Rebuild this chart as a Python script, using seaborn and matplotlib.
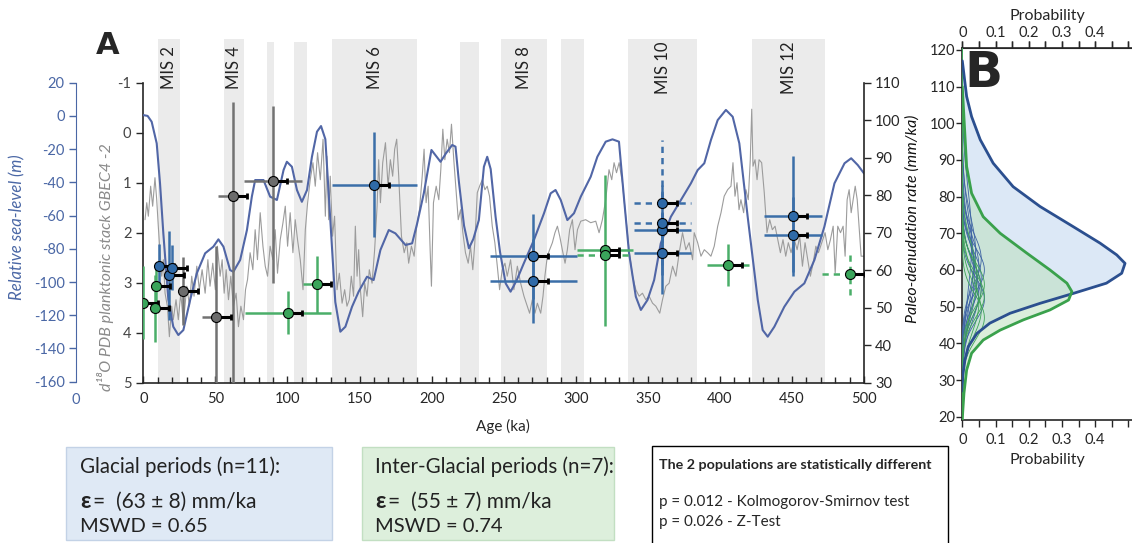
import numpy as np
import pandas as pd
import matplotlib
matplotlib.use("Agg")
import matplotlib.pyplot as plt
import matplotlib.transforms as mtransforms
from matplotlib.patches import Rectangle
from matplotlib.ticker import MultipleLocator
import seaborn as sns

# ---------------------------------------------------------------- data
# Marine isotope stage (grey) bands, ka
mis_start = [10.4, 55.8, 85.8, 104.7, 131.2, 219.6, 247.9, 289.5, 336.6, 422.5]
mis_end = [25.5, 70.0, 91.0, 113.5, 190.0, 233.0, 280.0, 305.5, 384.0, 473.0]
mis_names = ["MIS 2", "MIS 4", "", "", "MIS 6", "", "MIS 8", "", "MIS 10", "MIS 12"]

# relative sea level (m)
sl_age = [0, 3, 5.8, 9.3, 11.6, 13.9, 17.4, 20.8, 24.3, 27.8, 32.5, 37.1, 42.9, 48.6, 52.1,
          55.6, 60.2, 62.5, 67.2, 71.9, 75.3, 77.6, 83.4, 88, 92.7, 97.3, 99.6, 103.1, 106.6,
          110, 113.6, 117, 120.5, 123.3, 126.3, 129.7, 133.2, 136.7, 140.2, 144.8, 149.4,
          155.2, 159.8, 164.5, 170.3, 174.9, 181.9, 186.5, 190, 194.6, 199.9, 206.2, 210,
          214.3, 216.6, 219, 222.5, 225.9, 229, 232.8, 236.3, 238.6, 241, 244.4, 247.5,
          251.4, 254.8, 259, 264, 271, 278, 282.6, 286, 289.6, 294.2, 298.8, 303.5, 310.4,
          315, 320.8, 325.5, 330, 333.6, 337, 341.7, 345.2, 349.8, 354.4, 359, 366, 373,
          379.9, 384.6, 389.2, 393.8, 398.5, 404.2, 408.9, 413.5, 419.3, 426.3, 429.7,
          433.2, 437.8, 444.7, 451.7, 458.6, 465.6, 472.5, 479.5, 486.5, 491.1, 495.7, 500]
sea_level = [0.5, 0, -3.5, -16.5, -40.6, -70.7, -110.8, -126.9, -131.9, -128.9, -110.8, -94.8,
             -82.7, -78.7, -74.3, -78.7, -92.8, -93.8, -86.7, -68.7, -48.6, -38.6, -38.6,
             -48.6, -50.6, -32.6, -27.6, -30.6, -44.6, -51.7, -44.6, -24.6, -9.5, -6.1, -14,
             -62, -112, -129.9, -126.9, -114.9, -105.8, -96.8, -98.8, -80.7, -68.7, -70.7,
             -77.7, -76.7, -64.7, -46.6, -20.5, -27.6, -22.5, -17.5, -18.5, -40, -66, -79.7,
             -74, -62.7, -30.6, -24.6, -32, -60.7, -82, -100.8, -105.8, -99, -88.7, -74.7,
             -58.6, -46.6, -44.6, -50.6, -62.7, -58.6, -48.6, -36.6, -24.6, -15.5, -14.1,
             -15.5, -50.6, -82.7, -108.8, -116.8, -110.8, -98.8, -76.7, -60.7, -50.6, -40.6,
             -32.6, -28.5, -14.5, -2.5, 3.6, -0.5, -16.5, -60.7, -110.8, -128.9, -132.9,
             -126.9, -114.9, -105.8, -100.8, -86.7, -66.7, -40.6, -28.5, -25.5, -29.6, -34.6]

# d18O planktonic stack
d18_age = [1.2, 2.4, 3.5, 5.1, 6.5, 8.1, 9.3, 10.4, 11.6, 12.8, 13.9, 15.1, 16.7, 18.1, 19.7,
           20.8, 22.7, 24.3, 26.0, 27.8, 30.2, 32.0, 33.6, 35.2, 37.1, 38.9, 40.8, 42.9, 44.8,
           46.3, 48.2, 50.0, 51.4, 53.3, 54.7, 56.1, 57.5, 59.1, 60.7, 62.5, 64.4, 66.0, 67.7,
           69.5, 70.9, 72.3, 74.1, 76.0, 77.6, 79.2, 81.1, 83.0, 84.6, 86.2, 88.0, 89.9, 91.5,
           93.1, 95.0, 96.9, 98.5, 100.1, 101.9, 103.8, 105.4, 107.0, 108.9, 110.8, 112.4,
           114.0, 115.8, 117.7, 119.3, 120.9, 122.8, 124.7, 126.3, 127.4, 128.6, 129.7, 131.3,
           132.7, 134.4, 136.0, 137.9, 139.7, 141.3, 142.9, 144.3, 145.9, 147.1, 148.3, 149.4,
           150.6, 152.2, 153.6, 155.2, 156.8, 158.7, 160.5, 162.2, 163.3, 164.5, 166.1, 168.0,
           169.8, 171.4, 173.0, 174.4, 175.8, 177.2, 179.1, 181.0, 182.8, 184.1, 186.0, 187.9,
           189.7, 191.6, 193.5, 194.8, 196.2, 197.6, 199.0, 199.9, 201.3, 203.2, 205.0, 206.4,
           207.8, 209.2, 210.8, 212.4, 213.8, 215.4, 217.1, 218.5, 220.1, 221.7, 223.5, 225.4,
           227.0, 228.6, 230.0, 231.7, 233.3, 235.2, 237.0, 238.6, 240.2, 242.1, 243.9, 245.6,
           247.2, 249.0, 250.9, 252.5, 254.8, 257.1, 259.5, 261.8, 264.1, 266.4, 268.0, 269.9,
           271.7, 273.4, 275.7, 277.3, 278.6, 280.3, 281.9, 283.8, 285.6, 287.3, 288.9, 290.7,
           292.6, 294.2, 295.8, 297.7, 299.5, 301.2, 303.5, 306.9, 310.4, 313.9, 316.2, 318.5,
           320.8, 323.1, 325.0, 326.6, 328.3, 330.1, 332.4, 334.7, 337.0, 339.4, 341.7, 344.0,
           346.3, 348.6, 350.9, 353.3, 355.6, 358.3, 360.2, 362.5, 364.8, 367.2, 369.5, 371.8,
           374.1, 376.4, 378.7, 381.1, 382.2, 384.6, 386.9, 389.2, 391.5, 393.8, 396.1, 398.5,
           400.8, 403.0, 405.4, 407.7, 409.1, 410.5, 411.9, 413.3, 414.6, 416.5, 418.1, 419.7,
           421.1, 422.1, 423.0, 424.4, 425.8, 427.2, 429.0, 430.8, 432.7, 434.6, 436.4, 438.3,
           440.2, 442.0, 443.8, 445.7, 447.5, 449.4, 451.7, 453.6, 455.4, 457.3, 459.1, 461.0,
           462.8, 464.7, 466.6, 468.4, 470.7, 473.0, 474.9, 476.7, 478.6, 480.0, 481.8, 483.7,
           485.5, 486.9, 488.3, 489.7, 491.1, 492.5, 493.9, 495.3, 496.7, 498.0, 500.0]
d18O = [1.74, 1.40, 1.67, 1.07, 1.47, 0.90, 1.34, 1.87, 2.40, 2.87, 2.54, 3.21, 3.47, 4.08, 3.47,
        3.74, 3.34, 3.74, 3.21, 3.81, 3.07, 3.47, 2.87, 3.27, 2.67, 3.14, 2.74, 3.21, 2.54,
        3.07, 2.61, 3.14, 2.27, 2.87, 2.54, 3.21, 2.74, 3.34, 2.87, 3.47, 3.21, 3.88, 3.47,
        3.74, 3.14, 2.94, 2.40, 2.74, 1.94, 2.54, 1.60, 2.27, 2.67, 2.87, 2.27, 2.54, 1.94,
        2.81, 2.14, 1.80, 1.47, 2.27, 1.60, 2.40, 1.74, 2.14, 2.54, 3.14, 1.94,
        1.40, 0.94, 0.60, 1.07, 0.40, 0.94, 0.13, 1.67, 0.47, 1.74, 0.87, 2.07,
        1.67, 3.14, 2.81, 3.41, 3.14, 3.47, 3.34, 2.87, 3.27, 1.87, 2.87, 2.34,
        3.14, 3.68, 3.01, 3.27, 2.74, 3.01, 2.34, 1.47, 0.54, 1.40, 0.60, 0.20,
        1.07, 0.54, 0.87, 0.33, 0.13, 0.87, 2.07, 2.40, 2.20, 2.61, 2.27, 2.47,
        1.87, 1.54, 0.87, 0.33, 1.40, 1.07, 2.34, 3.07, 1.40, 1.07, 1.34, 0.74,
        -0.07, 0.54, 0.13, 0.40, -0.17, 0.54, 1.20, 1.74, 1.54, 2.00, 2.40, 2.61,
        2.27, 2.74, 2.20, 1.20, 1.07, 0.94, 1.14, 1.07, 1.27, 1.87, 2.20, 2.67,
        3.14, 2.74, 2.61, 2.87, 2.54, 3.14, 2.67, 3.01, 3.27, 3.47, 3.61, 3.34,
        3.61, 3.41, 3.61, 3.27, 2.87, 2.47, 2.34, 2.20, 2.00, 1.87, 2.07, 2.34,
        2.61, 2.34, 1.94, 1.74, 2.34, 1.94, 1.77, 1.74, 1.80, 1.77, 2.00, 1.74,
        1.34, 0.74, 0.94, 0.60, 0.80, 0.60, 1.00, 1.67, 2.34, 2.87, 3.14, 3.27,
        3.21, 3.34, 3.27, 3.41, 3.47, 3.61, 3.34, 3.07, 3.01, 2.67, 2.87, 2.40,
        2.00, 2.34, 2.20, 2.54, 2.00, 2.20, 2.47, 2.34, 2.40, 2.47, 2.27, 1.87,
        1.60, 1.27, 1.14, 1.07, 0.60, 1.27, 1.00, 1.54, 1.34, 1.60, 1.14, 1.34,
        0.54, -0.47, 0.67, 0.54, 0.94, 0.54, 0.60, 1.20, 2.00, 1.74, 1.94, 1.87,
        2.14, 2.40, 2.14, 2.47, 2.20, 2.40, 2.14, 2.34, 2.07, 2.67, 2.20, 2.54,
        2.87, 2.61, 2.27, 2.40, 2.20, 2.00, 2.34, 2.14, 1.87, 2.81, 1.87, 2.00,
        1.87, 2.47, 1.34, 1.14, 1.60, 1.34, 1.07, 1.34, 1.94, 2.47, 2.47]

# paleo-denudation rates (mm/ka) vs age (ka)
glac_age = [11.1, 18.1, 20.2, 160.3, 270.6, 270.6, 360.2, 360.2, 450.8, 450.8]
glac_rate = [61.1, 58.6, 60.7, 82.8, 63.7, 57.1, 70.6, 64.6, 74.5, 69.5]
glac_age_err = [3, 3, 3, 29.5, 30, 30, 20, 20, 20, 20]
glac_rate_err = [6, 11.8, 6, 14, 11.3, 11.3, 12, 11, 16, 10]

glac_dash_age = [360.2, 360.2]
glac_dash_rate = [78.0, 72.7]
glac_dash_age_err = [20, 20]
glac_dash_rate_err = [16.7, 8]

inter_age = [0, 8.1, 8.6, 100.3, 120.5, 320.2, 405.4]
inter_rate = [51.3, 49.8, 55.9, 48.7, 56.2, 65.3, 61.5]
inter_age_err = [1, 2, 2, 30, 10, 19.4, 14.5]
inter_rate_err = [9.7, 9, 5, 5.8, 7.5, 20.2, 5.6]

inter_dash_age = [320.2, 490.6]
inter_dash_rate = [64.1, 58.9]
inter_dash_age_err = [19.4, 20]
inter_dash_rate_err = [1, 5.6]

other_age = [27.8, 50.5, 62.1, 89.9]
other_rate = [54.5, 47.4, 79.9, 83.7]
other_age_err = [4, 10, 10, 20]
other_rate_lo = [9, 19, 55, 27]
other_rate_hi = [9, 19, 25, 20]

# Panel B: summed probability curves
pb_glac_rate = [117, 107.3, 101.8, 95.5, 89.1, 82.7, 77.3, 71.8, 67.3, 64.1, 61.8, 59.1, 56.4,
                53.6, 50.9, 48.2, 45.5, 42.7, 39.1, 35.5, 30.9, 27]
pb_glac_prob = [0, 0.013, 0.028, 0.054, 0.093, 0.153, 0.234, 0.334, 0.415, 0.465, 0.49, 0.48,
                0.434, 0.334, 0.234, 0.144, 0.083, 0.044, 0.018, 0.008, 0.001, 0]
pb_inter_rate = [110, 88.2, 80.9, 74.5, 70, 64.6, 60, 56.4, 54.1, 51.8, 49.1, 46.4, 43.6,
                 40.9, 37.3, 32.7, 26.4, 20.9, 19.1]
pb_inter_prob = [0, 0.013, 0.028, 0.063, 0.114, 0.194, 0.264, 0.315, 0.33, 0.32, 0.264,
                 0.184, 0.114, 0.063, 0.028, 0.013, 0.005, 0.001, 0]
# individual sample densities (mean, sd in mm/ka)
ind_glac_mu = [52, 54, 55, 57, 58, 59, 60, 61, 62, 63, 65, 68]
ind_glac_sd = [6, 8, 7, 9, 7, 11, 6, 8, 12, 7, 10, 14]
ind_inter_mu = [47, 49, 51, 53, 55, 56, 58]
ind_inter_sd = [6, 7, 8, 6, 7, 6, 9]

# ---------------------------------------------------------------- style
W, H = 1132, 543
def fx(px): return px / W
def fy(py): return 1 - py / H

sns.set_style("ticks")
plt.rcParams["font.family"] = ["Lato", "DejaVu Sans"]
plt.rcParams["axes.unicode_minus"] = False

BLUE_PT, BLUE_BAR = "#2f6aa8", "#3b6ea8"
GREEN_PT, GREEN_BAR = "#3aa55b", "#4aae69"
GRAY_PT, GRAY_BAR = "#6c6c6c", "#727272"
SEA = "#5166a6"
SEA_AX = "#4a67a5"
D18 = "#9c9c9c"
BAND = "#ebebeb"

fig = plt.figure(figsize=(W / 100, H / 100), dpi=100)

# ------------------------------------------------------------- panel A
ax = fig.add_axes([fx(143.3), fy(382.7), (864 - 143.3) / W, (382.7 - 82.7) / H])
ax_sl = ax.twinx()
ax_r = ax.twinx()

tall_top = 1 + (82.7 - 38.5) / 300
short_top = 1 + (82.7 - 41.5) / 300
trans = mtransforms.blended_transform_factory(ax.transData, ax.transAxes)
for s, e, name in zip(mis_start, mis_end, mis_names):
    top = tall_top if (e - s) > 14 or name else short_top
    ax.axvspan(s, e, ymin=0, ymax=top, color=BAND, lw=0, zorder=0, clip_on=False)
    if name:
        ax.text((s + e) / 2, 1.05, name, transform=trans, rotation=90, ha="center",
                va="center", fontsize=12, color="#222222")

df_d18 = pd.DataFrame({"age": d18_age, "d18O": d18O})
sns.lineplot(data=df_d18, x="age", y="d18O", ax=ax, color=D18, lw=0.8, estimator=None,
             sort=False, zorder=2)
ax.set_xlim(0, 500)
ax.set_ylim(5, -1)
ax.set_yticks(range(-1, 6))
ax.set_xticks(range(0, 501, 50))
ax.xaxis.set_minor_locator(MultipleLocator(10))
ax.tick_params(axis="x", which="both", direction="in", length=5, width=1, labelsize=10.5, pad=7)
ax.tick_params(axis="x", which="minor", length=4)
ax.tick_params(axis="y", direction="out", length=5, width=1, labelsize=10.5, labelcolor="#444444")
ax.set_xlabel("")
ax.set_ylabel("")
for sp in ["top", "right"]:
    ax.spines[sp].set_visible(False)
for sp in ["left", "bottom"]:
    ax.spines[sp].set_linewidth(1.2)

# sea level
df_sl = pd.DataFrame({"age": sl_age, "sl": sea_level})
sns.lineplot(data=df_sl, x="age", y="sl", ax=ax_sl, color=SEA, lw=1.5, estimator=None, sort=False)
ax_sl.set_ylim(-160.6, 20)
ax_sl.set_yticks(range(-160, 21, 20))
ax_sl.yaxis.set_ticks_position("left")
ax_sl.yaxis.set_label_position("left")
ax_sl.spines["left"].set_position(("outward", 48.2))
ax_sl.spines["left"].set_color(SEA_AX)
ax_sl.spines["left"].set_bounds(-160, 20)
for sp in ["top", "right", "bottom"]:
    ax_sl.spines[sp].set_visible(False)
ax_sl.tick_params(axis="y", direction="out", length=5, width=1, colors=SEA_AX, labelsize=10.5)
ax_sl.set_ylabel("")
ax_sl.set_xlabel("")

# denudation rates
ax_r.set_ylim(30, 110)
ax_r.set_yticks(range(30, 111, 10))
for sp in ["top", "left", "bottom"]:
    ax_r.spines[sp].set_visible(False)
ax_r.spines["right"].set_linewidth(1.2)
ax_r.tick_params(axis="y", direction="out", length=5, width=1, labelsize=10.5, pad=3)

ARROW = 10  # length of the black shift arrow (ka)

def draw_group(age, rate, aerr, rerr, bar_color, pt_color, ls="-"):
    eb = ax_r.errorbar(age, rate, xerr=aerr, yerr=rerr, fmt="none", ecolor=bar_color,
                       elinewidth=1.8, capsize=0, zorder=3)
    if ls != "-":
        for col in eb[2]:
            col.set_linestyle(ls)
    for a, r in zip(age, rate):
        ax_r.plot([a, a + ARROW], [r, r], color="black", lw=2.2, solid_capstyle="butt", zorder=4)
        ax_r.plot([a + ARROW], [r], marker="|", ms=5, mew=2, color="black", zorder=4)
    sns.scatterplot(x=age, y=rate, ax=ax_r, color=pt_color, s=52, edgecolor="black",
                    linewidth=0.8, zorder=5, legend=False)

draw_group(other_age, other_rate, other_age_err, [other_rate_lo, other_rate_hi], GRAY_BAR, GRAY_PT)
draw_group(inter_age, inter_rate, inter_age_err, inter_rate_err, GREEN_BAR, GREEN_PT)
draw_group(inter_dash_age, inter_dash_rate, inter_dash_age_err, inter_dash_rate_err,
           GREEN_BAR, GREEN_PT, ls=(0, (2.5, 2)))
draw_group(glac_age, glac_rate, glac_age_err, glac_rate_err, BLUE_BAR, BLUE_PT)
draw_group(glac_dash_age, glac_dash_rate, glac_dash_age_err, glac_dash_rate_err,
           BLUE_BAR, BLUE_PT, ls=(0, (2.5, 2)))
ax_r.set_xlim(0, 500)
ax_r.set_ylabel("")
ax_r.set_xlabel("")

# axis titles
fig.text(fx(17.5), fy(227), "Relative sea-level (m)", rotation=90, ha="center", va="center",
         color=SEA_AX, style="italic", fontsize=12)
fig.text(fx(105), fy(267), "d¹⁸O PDB planktonic stack GBEC4 -2", rotation=90, ha="center",
         va="center", color="#8a8a8a", style="italic", fontsize=11.5)
fig.text(fx(913), fy(219), "Paleo-denudation rate (mm/ka)", rotation=90, ha="center",
         va="center", color="#111111", style="italic", fontsize=11.5)
fig.text(fx(503), fy(426), "Age (ka)", ha="center", va="center", fontsize=11)
fig.text(fx(76), fy(400), "0", ha="center", va="center", fontsize=10.5, color=SEA_AX)
fig.text(fx(108), fy(46), "A", ha="center", va="center", fontsize=22, fontweight="heavy",
         family=["DejaVu Sans"])

# ------------------------------------------------------------- panel B
axB = fig.add_axes([fx(962.3), fy(420), (1132 - 962.3) / W, (420 - 48) / H])
yy = np.linspace(19, 121, 400)
for mu, sd in zip(ind_glac_mu, ind_glac_sd):
    axB.plot(np.exp(-0.5 * ((yy - mu) / sd) ** 2) / (sd * np.sqrt(2 * np.pi)), yy,
             color="#3d62a3", lw=0.6, zorder=3)
for mu, sd in zip(ind_inter_mu, ind_inter_sd):
    axB.plot(np.exp(-0.5 * ((yy - mu) / sd) ** 2) / (sd * np.sqrt(2 * np.pi)), yy,
             color="#3da257", lw=0.6, zorder=3)
axB.fill_betweenx(pb_glac_rate, 0, pb_glac_prob, color="#dce8f6", lw=0, zorder=1)
axB.fill_betweenx(pb_inter_rate, 0, pb_inter_prob, color="#b9dfb9", alpha=0.5, lw=0, zorder=2)
sns.lineplot(x=pb_glac_prob, y=pb_glac_rate, ax=axB, color="#2b4f8f", lw=2, sort=False,
             estimator=None, orient="y", zorder=4)
sns.lineplot(x=pb_inter_prob, y=pb_inter_rate, ax=axB, color="#3aa14c", lw=2, sort=False,
             estimator=None, orient="y", zorder=4)
axB.set_xlim(0, 0.511)
axB.set_ylim(19.1, 120.5)
axB.set_yticks(range(20, 121, 10))
axB.set_xticks([0, 0.1, 0.2, 0.3, 0.4])
axB.set_xticklabels(["0", "0.1", "0.2", "0.3", "0.4"])
axB.xaxis.set_minor_locator(MultipleLocator(0.05))
axB.tick_params(axis="x", which="both", direction="out", length=5, width=1, labelsize=10.5,
                top=True, pad=4)
axB.tick_params(axis="y", direction="out", length=4, width=1, labelsize=10.5, pad=1)
axB.spines["right"].set_visible(False)
for sp in ["left", "top", "bottom"]:
    axB.spines[sp].set_visible(True)
    axB.spines[sp].set_linewidth(1.2)
axB.set_xlabel("Probability", fontsize=11.5, labelpad=5)
axB.set_ylabel("")
secB = axB.secondary_xaxis("top")
secB.set_xticks([0, 0.1, 0.2, 0.3, 0.4])
secB.set_xticklabels(["0", "0.1", "0.2", "0.3", "0.4"])
secB.xaxis.set_minor_locator(MultipleLocator(0.05))
secB.tick_params(axis="x", which="both", direction="out", length=5, width=1, labelsize=10.5, pad=1)
secB.set_xlabel("Probability", fontsize=11.5, labelpad=4)
fig.text(fx(983), fy(73), "B", ha="center", va="center", fontsize=36, fontweight="heavy",
         family=["DejaVu Sans"])

# ------------------------------------------------------------- text boxes
fig.add_artist(Rectangle((fx(66), fy(540)), (332 - 66) / W, (540 - 447) / H,
                         transform=fig.transFigure, facecolor="#dfe9f5", edgecolor="#c3d2e6", lw=1))
fig.add_artist(Rectangle((fx(361.5), fy(540)), (614 - 361.5) / W, (540 - 447) / H,
                         transform=fig.transFigure, facecolor="#ddefdc", edgecolor="#c2dfc2", lw=1))
fig.add_artist(Rectangle((fx(652), fy(548)), (948 - 652) / W, (548 - 446) / H,
                         transform=fig.transFigure, facecolor="white", edgecolor="black", lw=1))

for x0, title, eps, mswd in [(80, "Glacial periods (n=11):", "(63 ± 8) mm/ka", "MSWD = 0.65"),
                             (375, "Inter-Glacial periods (n=7):", "(55 ± 7) mm/ka", "MSWD = 0.74")]:
    fig.text(fx(x0), fy(473), title, ha="left", va="baseline", fontsize=14.8, color="#222222")
    fig.text(fx(x0), fy(508), "ε", ha="left", va="baseline", fontsize=16.5, fontweight="bold",
             color="#222222")
    fig.text(fx(x0 + 13), fy(508), "=  " + eps, ha="left", va="baseline", fontsize=15,
             color="#222222")
    fig.text(fx(x0), fy(532), mswd, ha="left", va="baseline", fontsize=14.5, color="#222222")

fig.text(fx(659), fy(469), "The 2 populations are statistically different", ha="left",
         va="baseline", fontsize=10.3, fontweight="bold")
fig.text(fx(659), fy(506), "p = 0.012 - Kolmogorov-Smirnov test", ha="left", va="baseline",
         fontsize=11)
fig.text(fx(659), fy(526), "p = 0.026 - Z-Test", ha="left", va="baseline", fontsize=11)

fig.savefig("out.png", dpi=100)
